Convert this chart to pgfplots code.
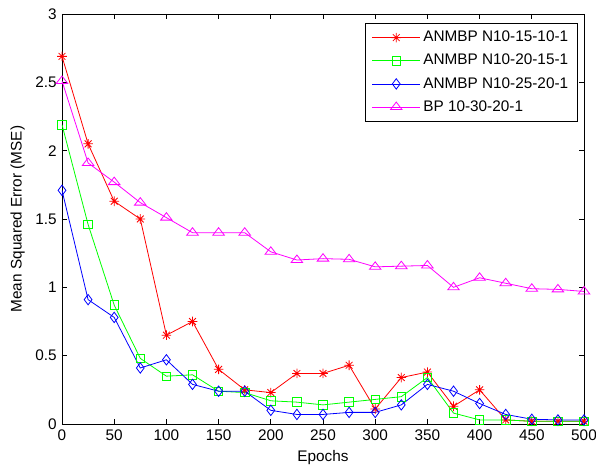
\documentclass[border=0pt]{standalone}
\usepackage{fontspec}
\setmainfont{Liberation Sans}
\usepackage{pgfplots}
\pgfplotsset{compat=1.18}

\definecolor{mred}{rgb}{1,0,0}
\definecolor{mgreen}{rgb}{0,1,0}
\definecolor{mblue}{rgb}{0,0,1}
\definecolor{mmag}{rgb}{1,0,1}

% MATLAB-style '*' marker: plus and cross on top of each other
\pgfdeclareplotmark{mstar}{%
  \pgfpathmoveto{\pgfpoint{-\pgfplotmarksize}{0pt}}\pgfpathlineto{\pgfpoint{\pgfplotmarksize}{0pt}}%
  \pgfpathmoveto{\pgfpoint{0pt}{-\pgfplotmarksize}}\pgfpathlineto{\pgfpoint{0pt}{\pgfplotmarksize}}%
  \pgfpathmoveto{\pgfpoint{-0.707\pgfplotmarksize}{-0.707\pgfplotmarksize}}\pgfpathlineto{\pgfpoint{0.707\pgfplotmarksize}{0.707\pgfplotmarksize}}%
  \pgfpathmoveto{\pgfpoint{-0.707\pgfplotmarksize}{0.707\pgfplotmarksize}}\pgfpathlineto{\pgfpoint{0.707\pgfplotmarksize}{-0.707\pgfplotmarksize}}%
  \pgfusepathqstroke}

\pgfplotstableread{
ep   a     b     c      d
0    2.69  2.19  1.71   2.51
25   2.05  1.46  0.91   1.91
50   1.63  0.87  0.78   1.77
75   1.50  0.48  0.41   1.62
100  0.65  0.35  0.47   1.51
125  0.75  0.36  0.29   1.40
150  0.40  0.24  0.24   1.40
175  0.25  0.23  0.24   1.40
200  0.23  0.17  0.10   1.26
225  0.37  0.16  0.07   1.20
250  0.37  0.14  0.07   1.21
275  0.43  0.16  0.085  1.205
300  0.11  0.18  0.085  1.15
325  0.34  0.20  0.14   1.155
350  0.38  0.34  0.29   1.16
375  0.13  0.08  0.24   1.00
400  0.25  0.03  0.15   1.07
425  0.03  0.03  0.07   1.03
450  0.02  0.02  0.035  0.99
475  0.02  0.02  0.03   0.985
500  0.02  0.02  0.03   0.97
}\mse

\begin{document}
\fontsize{11.5}{13.5}\selectfont
\begin{tikzpicture}
\begin{axis}[
  width=391.5pt, height=307.5pt, scale only axis,
  xmin=0, xmax=500, ymin=0, ymax=3,
  xtick={0,50,...,500}, ytick={0,0.5,...,3},
  tick align=inside, major tick length=4pt,
  axis line style={line width=0.7pt}, tick style={line width=0.6pt, black},
  /pgf/number format/assume math mode=true,
  ticklabel style={font=\fontsize{11.5}{13.5}\selectfont},
  xlabel={Epochs}, ylabel={Mean Squared Error (MSE)},
  label style={font=\fontsize{11.5}{13.5}\selectfont},
  xlabel style={yshift=0.5pt}, ylabel style={yshift=0pt},
  legend cell align=left,
  legend style={at={(rel axis cs:1,1)}, anchor=north east, xshift=-4.5pt, yshift=-6.5pt,
    draw=black, line width=0.7pt, font=\fontsize{11.5}{13.5}\selectfont,
    row sep=3.6pt, inner xsep=5pt, inner ysep=4pt},
  legend image code/.code={\draw[mark repeat=2, mark phase=2] plot coordinates {(0pt,0pt) (18pt,0pt) (36pt,0pt)};},
  every axis plot/.append style={line width=0.6pt},
]
\addplot[mred, mark=mstar, mark size=3.6pt] table[x=ep, y=a] {\mse};
\addlegendentry{ANMBP N10-15-10-1}
\addplot[mgreen, mark=square, mark size=3.2pt] table[x=ep, y=b] {\mse};
\addlegendentry{ANMBP N10-20-15-1}
\addplot[mblue, mark=diamond, mark size=3.9pt] table[x=ep, y=c] {\mse};
\addlegendentry{ANMBP N10-25-20-1}
\addplot[mmag, mark=triangle, mark size=5pt, mark options={yscale=0.75}] table[x=ep, y=d] {\mse};
\addlegendentry{BP 10-30-20-1}
\coordinate (sw) at (rel axis cs:0,0);
\coordinate (ne) at (rel axis cs:1,1);
\end{axis}
\pgfresetboundingbox
\path ([xshift=-46.5pt, yshift=-33pt]sw) rectangle ([xshift=9pt, yshift=10.5pt]ne);
\end{tikzpicture}
\end{document}
